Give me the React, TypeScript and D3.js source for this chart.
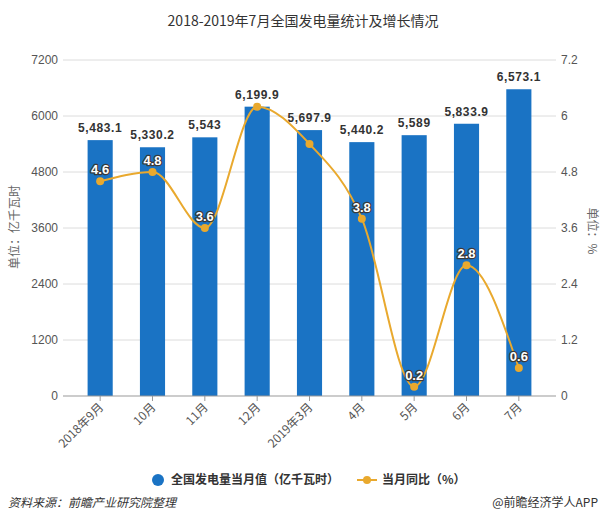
import React from "react";
import * as d3 from "d3";

const categories = ["2018年9月", "10月", "11月", "12月", "2019年3月", "4月", "5月", "6月", "7月"];
const generation = [5483.1, 5330.2, 5543, 6199.9, 5697.9, 5440.2, 5589, 5833.9, 6573.1];
const growth = [4.6, 4.8, 3.6, 6.2, 5.4, 3.8, 0.2, 2.8, 0.6];
const leftTicks = [0, 1200, 2400, 3600, 4800, 6000, 7200];
const rightTicks = [0, 1.2, 2.4, 3.6, 4.8, 6, 7.2];

const W = 606;
const H = 530;
const left = 63;
const right = 556;
const top = 60;
const bottom = 396;
const BLUE = "#1a73c4";
const GOLD = "#e9a92e";
const FONT = "'Liberation Sans', 'Noto Sans CJK SC', sans-serif";
const CJK = "'Noto Sans CJK SC', 'Liberation Sans', sans-serif";

export default function App() {
  const x = d3.scaleBand<string>().domain(categories).range([left, right]).paddingInner(0.52).paddingOuter(0.47);
  const yL = d3.scaleLinear().domain([0, 7200]).range([bottom, top]);
  const yR = d3.scaleLinear().domain([0, 7.2]).range([bottom, top]);
  const cx = (c: string) => (x(c) as number) + x.bandwidth() / 2;

  const line = d3
    .line<number>()
    .x((_, i) => cx(categories[i]))
    .y((d) => yR(d))
    .curve(d3.curveMonotoneX);

  const barLabelY = (i: number) => yL(generation[i]) - 8;
  const lineLabelY = (i: number) => yR(growth[i]) - 7;
  const showLineLabel = (i: number) => Math.abs(barLabelY(i) - lineLabelY(i)) > 20;

  return (
    <svg width={W} height={H} style={{ display: "block", position: "absolute", left: 0, top: 0, background: "#fff" }}>
      <text x={W / 2} y={26} textAnchor="middle" fontSize={14} fill="#333" fontFamily={CJK}>
        2018-2019年7月全国发电量统计及增长情况
      </text>

      {leftTicks.map((t) => (
        <g key={"g" + t}>
          {t !== 0 && <line x1={left} x2={right} y1={yL(t)} y2={yL(t)} stroke="#dcdcdc" strokeWidth={1} />}
          <text x={58} y={yL(t) + 4} textAnchor="end" fontSize={12} fill="#555" fontFamily={FONT}>
            {t}
          </text>
        </g>
      ))}
      {rightTicks.map((t) => (
        <text key={"r" + t} x={561} y={yR(t) + 4} textAnchor="start" fontSize={12} fill="#555" fontFamily={FONT}>
          {t}
        </text>
      ))}

      <text transform={`translate(19,227) rotate(-90)`} textAnchor="middle" fontSize={12} fill="#666" fontFamily={CJK}>
        单位：亿千瓦时
      </text>
      <text transform={`translate(588,231) rotate(90)`} textAnchor="middle" fontSize={12} fill="#666" fontFamily={CJK}>
        单位：%
      </text>

      {categories.map((c, i) => (
        <rect key={"b" + c} x={x(c)} y={yL(generation[i])} width={x.bandwidth()} height={bottom - yL(generation[i])} fill={BLUE} />
      ))}

      <line x1={left} x2={right} y1={bottom} y2={bottom} stroke="#999" strokeWidth={1} />
      {categories.map((c) => (
        <line key={"t" + c} x1={cx(c)} x2={cx(c)} y1={bottom} y2={bottom + 5} stroke="#999" />
      ))}
      {categories.map((c) => (
        <text
          key={"xl" + c}
          transform={`translate(${cx(c) + 4},${bottom + 12}) rotate(-45)`}
          textAnchor="end"
          fontSize={12}
          fill="#555"
          fontFamily={CJK}
        >
          {c}
        </text>
      ))}

      <path d={line(growth) || ""} fill="none" stroke={GOLD} strokeWidth={2} />
      {categories.map((c, i) => (
        <circle key={"p" + c} cx={cx(c)} cy={yR(growth[i])} r={4} fill={GOLD} />
      ))}

      {categories.map((c, i) => (
        <text
          key={"bl" + c}
          x={cx(c)}
          y={barLabelY(i)}
          textAnchor="middle"
          fontSize={12}
          fontWeight="bold"
          fill="#333"
          fontFamily={FONT}
          letterSpacing={0.6}
        >
          {d3.format(",")(generation[i])}
        </text>
      ))}

      {categories.map((c, i) =>
        showLineLabel(i) ? (
          <text
            key={"ll" + c}
            x={cx(c)}
            y={lineLabelY(i)}
            textAnchor="middle"
            fontSize={13}
            fontWeight="bold"
            fill="#fff"
            stroke="#3a3a3a"
            strokeWidth={2.5}
            paintOrder="stroke"
            strokeLinejoin="round"
            fontFamily={FONT}
          >
            {growth[i]}
          </text>
        ) : null
      )}

      <g fontFamily={CJK} fontSize={12} fill="#333">
        <circle cx={158} cy={480} r={6} fill={BLUE} />
        <text x={171} y={484} fontWeight="bold" fill="#333">
          全国发电量当月值（亿千瓦时）
        </text>
        <line x1={357} x2={377} y1={480} y2={480} stroke={GOLD} strokeWidth={2} />
        <circle cx={367} cy={480} r={4} fill={GOLD} />
        <text x={382} y={484} fontWeight="bold" fill="#333">
          当月同比（%）
        </text>
      </g>

      <text x={8} y={507} fontSize={12} fontStyle="italic" fill="#333" fontFamily={CJK}>
        资料来源：前瞻产业研究院整理
      </text>
      <text x={598} y={507} textAnchor="end" fontSize={12} fill="#333" fontFamily={CJK}>
        @前瞻经济学人APP
      </text>
    </svg>
  );
}
